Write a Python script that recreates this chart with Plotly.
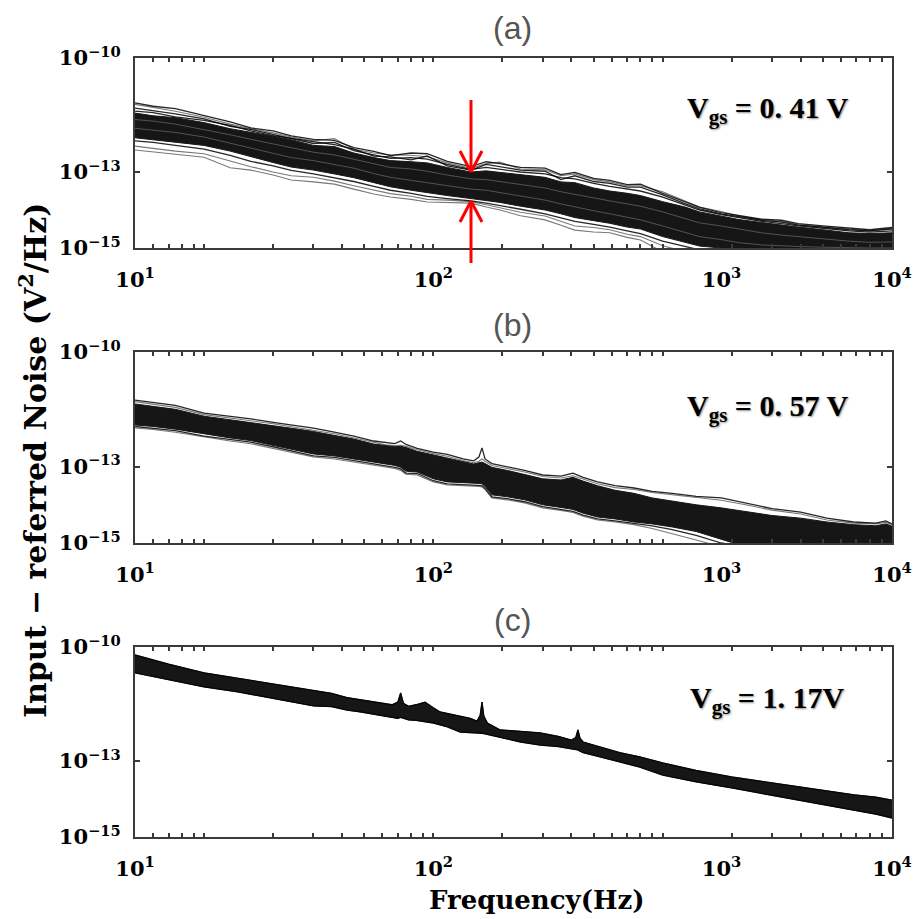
import math
import plotly.graph_objects as go

W, H = 920, 919

# ---------------- data (log10 of noise PSD, V^2/Hz) ----------------
FREQ_A = [5, 6, 7.5, 10, 13, 16, 20, 24, 30, 37, 45, 55, 65, 80, 94, 115, 146, 170, 195, 240,
          307, 360, 414, 500, 588, 700, 800, 1000, 1250, 1450, 1800, 2150, 2700, 3300, 3900, 5000,
          6500, 8000, 10000]
CORE_TOP_A = [-11.45, -11.52, -11.57, -11.70, -11.86, -11.95, -12.06, -12.15, -12.30, -12.33,
              -12.50, -12.62, -12.70, -12.73, -12.76, -12.88, -13.00, -12.97, -13.01, -13.08,
              -13.14, -13.26, -13.28, -13.42, -13.50, -13.56, -13.62, -13.78, -13.92, -14.05,
              -14.15, -14.25, -14.33, -14.40, -14.45, -14.52, -14.60, -14.62, -14.60]
CORE_BOT_A = [-12.10, -12.15, -12.22, -12.30, -12.45, -12.60, -12.75, -12.87, -12.95, -13.05,
              -13.15, -13.28, -13.39, -13.48, -13.55, -13.62, -13.70, -13.75, -13.80, -13.90,
              -14.00, -14.10, -14.20, -14.28, -14.35, -14.45, -14.50, -14.70, -14.85, -14.95,
              -15.0, -15.05, -15.1, -15.1, -15.1, -15.1, -15.1, -15.1, -15.1]
A1 = [-11.18, -11.27, -11.33, -11.52, -11.68, -11.84, -11.92, -12.05, -12.14, -12.17,
      -12.36, -12.46, -12.57, -12.50, -12.52, -12.72, -12.86, -12.73, -12.78, -12.88,
      -12.90, -13.07, -13.01, -13.17, -13.22, -13.33, -13.32, -13.56, -13.78, -13.93,
      -14.07, -14.14, -14.24, -14.27, -14.36, -14.42, -14.48, -14.52, -14.46]
A2 = [-11.32, -11.38, -11.47, -11.60, -11.80, -11.88, -12.01, -12.10, -12.25, -12.22,
      -12.44, -12.55, -12.64, -12.62, -12.66, -12.80, -12.93, -12.88, -12.92, -13.00,
      -13.05, -13.15, -13.18, -13.30, -13.38, -13.45, -13.50, -13.66, -13.86, -14.00,
      -14.12, -14.20, -14.30, -14.36, -14.42, -14.48, -14.55, -14.58, -14.55]
A3 = [-11.40, -11.44, -11.55, -11.64, -11.77, -11.92, -12.04, -12.12, -12.20, -12.28,
      -12.40, -12.58, -12.60, -12.68, -12.58, -12.84, -12.95, -12.80, -12.86, -12.95,
      -12.98, -13.20, -13.10, -13.25, -13.30, -13.40, -13.40, -13.60, -13.83, -13.97,
      -14.10, -14.18, -14.27, -14.32, -14.40, -14.45, -14.52, -14.55, -14.50]
A4 = [-12.18, -12.22, -12.30, -12.40, -12.56, -12.72, -12.84, -12.96, -13.05, -13.15,
      -13.25, -13.38, -13.48, -13.56, -13.64, -13.70, -13.76, -13.82, -13.88, -13.98,
      -14.10, -14.20, -14.30, -14.38, -14.45, -14.55, -14.62, -14.82, -14.95, -15.05,
      -15.1, -15.1, -15.1, -15.1, -15.1, -15.1, -15.1, -15.1, -15.1]
A5 = [-12.42, -12.47, -12.53, -12.61, -12.89, -12.95, -13.08, -13.21, -13.26, -13.32,
      -13.45, -13.58, -13.66, -13.72, -13.79, -13.80, -13.82, -13.92, -14.00, -14.15,
      -14.26, -14.40, -14.53, -14.58, -14.60, -14.72, -14.79, -15.1, -15.2, -15.2,
      -15.2, -15.2, -15.2, -15.2, -15.2, -15.2, -15.2, -15.2, -15.2]
A6 = [-12.32, -12.38, -12.45, -12.52, -12.72, -12.86, -13.00, -13.10, -13.14, -13.24,
      -13.36, -13.48, -13.57, -13.64, -13.72, -13.74, -13.78, -13.86, -13.94, -14.06,
      -14.16, -14.30, -14.42, -14.46, -14.52, -14.64, -14.70, -14.94, -15.1, -15.2,
      -15.2, -15.2, -15.2, -15.2, -15.2, -15.2, -15.2, -15.2, -15.2]
A7 = [-11.22, -11.30, -11.40, -11.56, -11.74, -11.86, -11.97, -12.08, -12.18, -12.12,
      -12.40, -12.50, -12.55, -12.56, -12.60, -12.76, -12.90, -12.78, -12.74, -12.92,
      -12.94, -13.10, -13.05, -13.20, -13.26, -13.36, -13.36, -13.52, -13.76, -13.92,
      -14.04, -14.16, -14.26, -14.30, -14.38, -14.45, -14.50, -14.55, -14.48]
# thin light streaks seen inside the dense band of panel (a)
A_STREAK1 = [-11.62, -11.66, -11.74, -11.88, -12.02, -12.14, -12.26, -12.36, -12.48, -12.55,
             -12.66, -12.78, -12.88, -12.92, -12.98, -13.08, -13.18, -13.20, -13.25, -13.34,
             -13.42, -13.52, -13.58, -13.68, -13.76, -13.84, -13.90, -14.05, -14.22, -14.34,
             -14.42, -14.50, -14.60, -14.66, -14.70, -14.76, -14.82, -14.85, -14.84]
A_STREAK2 = [-11.85, -11.90, -11.96, -12.08, -12.24, -12.38, -12.50, -12.62, -12.70, -12.80,
             -12.90, -13.04, -13.14, -13.22, -13.28, -13.36, -13.45, -13.48, -13.54, -13.64,
             -13.74, -13.84, -13.92, -14.02, -14.10, -14.20, -14.26, -14.42, -14.58, -14.70,
             -14.78, -14.86, -14.92, -14.95, -14.96, -14.98, -15.0, -15.0, -15.0]

FREQ_B = [5, 6, 7.5, 10, 13, 16, 20, 25, 30, 37, 45, 55, 62, 68, 72, 76, 85, 100, 115, 135,
          150, 158, 163, 168, 180, 210, 250, 300, 360, 406, 450, 520, 620, 750, 900, 1100, 1400,
          1800, 2300, 3000, 4000, 5200, 6800, 8500, 9400, 10000]
CORE_TOP_B = [-11.36, -11.42, -11.50, -11.68, -11.77, -11.84, -11.93, -12.01, -12.08, -12.18,
              -12.28, -12.41, -12.46, -12.48, -12.47, -12.50, -12.60, -12.70, -12.77, -12.88,
              -12.93, -12.90, -12.88, -12.92, -13.02, -13.10, -13.20, -13.32, -13.35, -13.28,
              -13.38, -13.50, -13.62, -13.70, -13.82, -13.90, -14.00, -14.08, -14.18, -14.28,
              -14.35, -14.45, -14.52, -14.55, -14.50, -14.56]
CORE_BOT_B = [-11.91, -11.95, -12.02, -12.15, -12.25, -12.32, -12.44, -12.57, -12.67, -12.72,
              -12.80, -12.88, -12.93, -12.97, -13.02, -13.12, -13.14, -13.32, -13.40, -13.42,
              -13.42, -13.44, -13.45, -13.52, -13.74, -13.79, -13.87, -14.00, -14.07, -14.12,
              -14.22, -14.32, -14.37, -14.45, -14.50, -14.58, -14.70, -14.90, -15.1, -15.1,
              -15.1, -15.1, -15.1, -15.1, -15.1, -15.1]
B1 = [-11.26, -11.32, -11.40, -11.60, -11.68, -11.75, -11.84, -11.92, -11.99, -12.10,
      -12.20, -12.33, -12.38, -12.40, -12.33, -12.42, -12.52, -12.62, -12.68, -12.80,
      -12.85, -12.75, -12.51, -12.80, -12.92, -13.00, -13.10, -13.22, -13.25, -13.17,
      -13.28, -13.40, -13.50, -13.56, -13.65, -13.70, -13.78, -13.82, -13.95, -14.10,
      -14.19, -14.35, -14.45, -14.48, -14.42, -14.50]
B2 = [-11.30, -11.36, -11.45, -11.64, -11.72, -11.80, -11.88, -11.97, -12.04, -12.14,
      -12.25, -12.37, -12.43, -12.45, -12.44, -12.47, -12.56, -12.66, -12.73, -12.84,
      -12.90, -12.86, -12.80, -12.86, -12.97, -13.05, -13.14, -13.26, -13.30, -13.24,
      -13.33, -13.45, -13.55, -13.60, -13.68, -13.74, -13.82, -13.88, -14.00, -14.14,
      -14.24, -14.40, -14.48, -14.50, -14.46, -14.52]
B3 = [-11.95, -12.00, -12.06, -12.20, -12.30, -12.36, -12.48, -12.62, -12.72, -12.76,
      -12.85, -12.93, -12.98, -13.02, -13.06, -13.17, -13.18, -13.37, -13.45, -13.47,
      -13.48, -13.50, -13.50, -13.57, -13.79, -13.84, -13.92, -14.05, -14.12, -14.17,
      -14.27, -14.37, -14.42, -14.48, -14.55, -14.65, -14.80, -15.0, -15.1, -15.1,
      -15.1, -15.1, -15.1, -15.1, -15.1, -15.1]
B4 = [-11.99, -12.03, -12.10, -12.23, -12.33, -12.40, -12.52, -12.65, -12.75, -12.80,
      -12.88, -12.96, -13.01, -13.05, -13.10, -13.20, -13.22, -13.40, -13.48, -13.50,
      -13.50, -13.52, -13.53, -13.60, -13.82, -13.87, -13.95, -14.08, -14.15, -14.20,
      -14.30, -14.40, -14.45, -14.52, -14.62, -14.75, -14.92, -15.1, -15.1, -15.1,
      -15.1, -15.1, -15.1, -15.1, -15.1, -15.1]

FREQ_C = [5, 7, 10, 14, 20, 25, 30, 36, 42, 48, 59, 66, 70, 72, 74, 78, 84, 92, 100, 107,
          115, 131, 145, 155, 160, 163, 166, 172, 195, 240, 292, 350, 400, 418, 427, 436, 450,
          532, 650, 794, 1000, 1400, 2000, 2800, 3945, 5200, 6839, 8500, 10000]
TOP_C = [-10.21, -10.45, -10.68, -10.82, -10.98, -11.06, -11.13, -11.22, -11.33, -11.39,
         -11.48, -11.52, -11.45, -11.21, -11.48, -11.56, -11.52, -11.45, -11.60, -11.71,
         -11.75, -11.82, -11.88, -11.95, -11.80, -11.45, -11.82, -12.00, -12.18, -12.22,
         -12.26, -12.35, -12.45, -12.38, -12.18, -12.40, -12.50, -12.63, -12.78, -12.89,
         -13.05, -13.25, -13.42, -13.55, -13.68, -13.78, -13.89, -13.95, -14.03]
BOT_C = [-10.68, -10.85, -11.05, -11.18, -11.35, -11.47, -11.55, -11.57, -11.66, -11.71,
         -11.80, -11.86, -11.88, -11.85, -11.88, -11.92, -11.93, -11.97, -12.00, -12.05,
         -12.10, -12.24, -12.25, -12.25, -12.26, -12.27, -12.28, -12.30, -12.39, -12.50,
         -12.58, -12.62, -12.68, -12.70, -12.71, -12.74, -12.78, -12.89, -13.02, -13.16,
         -13.37, -13.55, -13.71, -13.87, -14.03, -14.15, -14.29, -14.40, -14.50]

PANEL_LABELS = ["(a)", "(b)", "(c)"]
VGS_LABELS = ["V<sub>gs</sub> = 0. 41 V", "V<sub>gs</sub> = 0. 57 V", "V<sub>gs</sub> = 1. 17V"]
X_LABEL_POS = [5, 100, 1807, 10000]
X_LABEL_TEXT = ["10<sup>1</sup>", "10<sup>2</sup>", "10<sup>3</sup>", "10<sup>4</sup>"]
X_MINOR = [6, 7, 8, 9, 10, 20, 30, 40, 50, 60, 70, 80, 90, 100, 200, 300, 400, 500, 600, 700,
           800, 900, 1000, 2000, 3000, 4000, 5000, 6000, 7000, 8000, 9000]
Y_TICK_VALS = [1e-15, 1e-13, 1e-10]
Y_TICK_TEXT = ["10<sup>−15</sup>", "10<sup>−13</sup>", "10<sup>−10</sup>"]


def psd(vals):
    return [10 ** v for v in vals]


def px(x):
    return x / W


def py(y):
    return 1 - y / H


panels = [
    dict(freq=FREQ_A, top=CORE_TOP_A, bot=CORE_BOT_A, black=[A1, A2, A3, A4], gray=[A5, A6, A7],
         streak=[A_STREAK1, A_STREAK2], ydom=(248, 58)),
    dict(freq=FREQ_B, top=CORE_TOP_B, bot=CORE_BOT_B, black=[B1, B3], gray=[B2, B4],
         streak=[], ydom=(543, 352)),
    dict(freq=FREQ_C, top=TOP_C, bot=BOT_C, black=[TOP_C, BOT_C], gray=[],
         streak=[], ydom=(837, 647)),
]

fig = go.Figure()
AX_COLOR = "#3a3a3a"
FILL = "rgb(22,22,22)"

for i, p in enumerate(panels, start=1):
    xa = "x" if i == 1 else f"x{i}"
    ya = "y" if i == 1 else f"y{i}"
    for g in p["gray"]:
        fig.add_trace(go.Scatter(x=p["freq"], y=psd(g), mode="lines", xaxis=xa, yaxis=ya,
                                 line=dict(color="rgb(120,120,120)", width=1.1),
                                 hoverinfo="skip", showlegend=False))
    fig.add_trace(go.Scatter(x=p["freq"], y=psd(p["bot"]), mode="lines", xaxis=xa, yaxis=ya,
                             line=dict(color=FILL, width=1), hoverinfo="skip", showlegend=False))
    fig.add_trace(go.Scatter(x=p["freq"], y=psd(p["top"]), mode="lines", xaxis=xa, yaxis=ya,
                             fill="tonexty", fillcolor=FILL,
                             line=dict(color=FILL, width=1), hoverinfo="skip", showlegend=False))
    for s in p["streak"]:
        fig.add_trace(go.Scatter(x=p["freq"], y=psd(s), mode="lines", xaxis=xa, yaxis=ya,
                                 line=dict(color="rgba(150,150,150,0.6)", width=0.8),
                                 hoverinfo="skip", showlegend=False))
    for b in p["black"]:
        fig.add_trace(go.Scatter(x=p["freq"], y=psd(b), mode="lines", xaxis=xa, yaxis=ya,
                                 line=dict(color="rgba(0,0,0,0.85)", width=1.3),
                                 hoverinfo="skip", showlegend=False))

    xkey = "xaxis" if i == 1 else f"xaxis{i}"
    ykey = "yaxis" if i == 1 else f"yaxis{i}"
    fig.layout[xkey] = dict(
        type="log", range=[math.log10(5), 4], domain=[px(135), px(892)], anchor=ya,
        automargin=False,
        showline=True, linecolor=AX_COLOR, linewidth=2, mirror="ticks",
        showgrid=False, zeroline=False, ticks="",
        tickmode="array", tickvals=X_LABEL_POS, ticktext=X_LABEL_TEXT,
        tickfont=dict(family="DejaVu Serif", size=21, color="black", weight="bold"),
        ticklabelstandoff=12,
        minor=dict(tickmode="array", tickvals=X_MINOR, ticks="inside", ticklen=4,
                   tickcolor=AX_COLOR, tickwidth=1.5, showgrid=False),
    )
    y0, y1 = p["ydom"]
    fig.layout[ykey] = dict(
        type="log", range=[-15, -10], domain=[py(y0), py(y1)], anchor=xa,
        automargin=False,
        showline=True, linecolor=AX_COLOR, linewidth=2, mirror="ticks",
        showgrid=False, zeroline=False, ticks="inside", ticklen=5, tickwidth=1.5,
        tickcolor=AX_COLOR, tickmode="array", tickvals=Y_TICK_VALS, ticktext=Y_TICK_TEXT,
        tickfont=dict(family="DejaVu Serif", size=21, color="black", weight="bold"),
        ticklabelstandoff=8,
    )

annotations = []
title_y = [28, 325, 620]
vgs_y = [110, 408, 700]
for i in range(3):
    annotations.append(dict(
        text=PANEL_LABELS[i], x=px(512), y=py(title_y[i]), xref="paper", yref="paper",
        showarrow=False, xanchor="center", yanchor="middle",
        font=dict(family="Liberation Sans Narrow, Liberation Sans", size=32, color="#555555")))
    annotations.append(dict(
        text=VGS_LABELS[i], x=px(767), y=py(vgs_y[i]), xref="paper", yref="paper",
        showarrow=False, xanchor="center", yanchor="middle",
        font=dict(family="Liberation Serif", size=30, color="black", weight="bold",
                  shadow="1px 1px 2px rgba(0,0,0,0.45)")))
annotations.append(dict(
    text="Input − referred Noise (V<sup>2</sup>/Hz)", x=px(33), y=py(461),
    xref="paper", yref="paper", showarrow=False, textangle=-90,
    xanchor="center", yanchor="middle",
    font=dict(family="DejaVu Serif", size=30, color="black", weight="bold")))
annotations.append(dict(
    text="Frequency(Hz)", x=px(537), y=py(900), xref="paper", yref="paper",
    showarrow=False, xanchor="center", yanchor="middle",
    font=dict(family="DejaVu Serif", size=26, color="black", weight="bold")))

RED = "#ff0000"
arrow_segments = [
    (471, 100, 471, 171), (460, 151, 471, 172), (482, 151, 471, 172),
    (471, 201, 471, 263), (460, 222, 471, 201), (482, 222, 471, 201),
]
shapes = [dict(type="line", xref="paper", yref="paper", x0=px(a), y0=py(b), x1=px(c), y1=py(d),
               line=dict(color=RED, width=3), layer="above")
          for a, b, c, d in arrow_segments]

fig.update_layout(
    width=W, height=H, margin=dict(l=0, r=0, t=0, b=0, autoexpand=False),
    paper_bgcolor="white", plot_bgcolor="white", showlegend=False,
    annotations=annotations, shapes=shapes,
)

fig.write_html("out.html",
               config={"displayModeBar": False},
               post_script="document.body.style.margin='0px';"
                           "document.body.style.overflow='hidden';")
